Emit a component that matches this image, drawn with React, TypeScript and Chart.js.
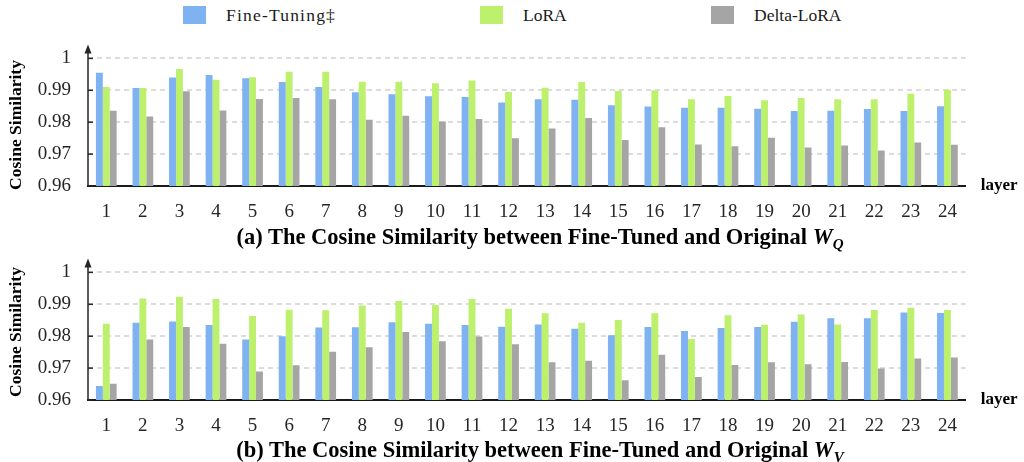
import React, { useEffect, useRef } from "react";
import { Chart, registerables } from "chart.js";

Chart.register(...registerables);

const layers = ["1","2","3","4","5","6","7","8","9","10","11","12","13","14","15","16","17","18","19","20","21","22","23","24"];
const seriesNames = ["Fine-Tuning\u2021", "LoRA", "Delta-LoRA"];
const seriesColors = ["#7FB2F0", "#BDF06D", "#A5A5A5"];
const yTickValues = [0.96, 0.97, 0.98, 0.99, 1];

const wqFineTuning = [0.9955, 0.9907, 0.9940, 0.9948, 0.9938, 0.9926, 0.9910, 0.9894, 0.9888, 0.9881, 0.9879, 0.9862, 0.9872, 0.9870, 0.9853, 0.9849, 0.9845, 0.9845, 0.9842, 0.9835, 0.9836, 0.9841, 0.9835, 0.9850];
const wqLoRA = [0.9910, 0.9907, 0.9967, 0.9933, 0.9941, 0.9958, 0.9958, 0.9927, 0.9927, 0.9922, 0.9931, 0.9895, 0.9908, 0.9926, 0.9898, 0.9900, 0.9872, 0.9882, 0.9869, 0.9876, 0.9872, 0.9872, 0.9889, 0.9902];
const wqDeltaLoRA = [0.9836, 0.9818, 0.9897, 0.9837, 0.9873, 0.9876, 0.9872, 0.9808, 0.9820, 0.9802, 0.9810, 0.9750, 0.9780, 0.9813, 0.9744, 0.9784, 0.9730, 0.9725, 0.9751, 0.9721, 0.9727, 0.9711, 0.9736, 0.9729];

const wvFineTuning = [0.9644, 0.9842, 0.9846, 0.9835, 0.9790, 0.9800, 0.9827, 0.9828, 0.9844, 0.9839, 0.9835, 0.9830, 0.9837, 0.9823, 0.9803, 0.9829, 0.9816, 0.9826, 0.9829, 0.9845, 0.9856, 0.9856, 0.9874, 0.9873];
const wvLoRA = [0.9839, 0.9918, 0.9924, 0.9917, 0.9863, 0.9883, 0.9881, 0.9896, 0.9910, 0.9898, 0.9917, 0.9886, 0.9872, 0.9842, 0.9851, 0.9872, 0.9791, 0.9866, 0.9836, 0.9868, 0.9837, 0.9882, 0.9889, 0.9882];
const wvDeltaLoRA = [0.9651, 0.9790, 0.9829, 0.9776, 0.9689, 0.9709, 0.9751, 0.9765, 0.9813, 0.9784, 0.9799, 0.9775, 0.9718, 0.9723, 0.9662, 0.9742, 0.9672, 0.9710, 0.9718, 0.9712, 0.9719, 0.9699, 0.9730, 0.9733];

const FONT = '"Liberation Serif", "Times New Roman", serif';

const axisPlugin = {
  id: "axisDecor",
  afterDraw(chart: any) {
    const { ctx, chartArea } = chart;
    const yScale = chart.scales.y;
    const left = chartArea.left;
    ctx.save();
    ctx.strokeStyle = "#262626";
    ctx.fillStyle = "#262626";
    ctx.lineWidth = 1.5;
    ctx.beginPath();
    ctx.moveTo(left, chartArea.bottom);
    ctx.lineTo(left, chartArea.top - 6);
    ctx.stroke();
    ctx.beginPath();
    ctx.moveTo(left, chartArea.top - 14);
    ctx.lineTo(left - 3.5, chartArea.top - 5);
    ctx.lineTo(left + 3.5, chartArea.top - 5);
    ctx.closePath();
    ctx.fill();
    yTickValues.forEach((v) => {
      const py = yScale.getPixelForValue(v);
      ctx.beginPath();
      ctx.moveTo(left, py);
      ctx.lineTo(left + 5, py);
      ctx.stroke();
    });
    ctx.font = `bold 17px ${FONT}`;
    ctx.textBaseline = "middle";
    ctx.textAlign = "left";
    ctx.fillStyle = "#000";
    ctx.fillText("layer", chartArea.right + 15, chartArea.bottom);
    ctx.restore();
  },
};

function BarPanel({ ft, lora, delta, top }: { ft: number[]; lora: number[]; delta: number[]; top: number }) {
  const ref = useRef<HTMLCanvasElement>(null);
  useEffect(() => {
    const values = [ft, lora, delta];
    const chart = new Chart(ref.current!, {
      type: "bar",
      data: {
        labels: layers,
        datasets: seriesNames.map((name, i) => ({
          label: name,
          data: values[i],
          backgroundColor: seriesColors[i],
          borderWidth: 0,
          categoryPercentage: 0.566,
          barPercentage: 1,
        })),
      },
      options: {
        animation: false,
        responsive: false,
        maintainAspectRatio: false,
        devicePixelRatio: 1,
        layout: { padding: { top: 20, right: 58.3, left: 0, bottom: 0 } },
        plugins: { legend: { display: false }, tooltip: { enabled: false }, title: { display: false } },
        scales: {
          x: {
            grid: { display: false },
            border: { color: "#1a1a1a", width: 2 },
            ticks: { font: { family: FONT, size: 19 }, color: "#262626", padding: 7, maxRotation: 0, autoSkip: false },
            afterFit: (s: any) => { s.height = 44; },
          },
          y: {
            min: 0.96,
            max: 1,
            afterBuildTicks: (s: any) => { s.ticks = yTickValues.map((v) => ({ value: v })); },
            ticks: {
              font: { family: FONT, size: 19 },
              color: "#262626",
              padding: 17,
              callback: (v: any) => String(Math.round(Number(v) * 100) / 100),
            },
            grid: { color: "#dcdcdc", lineWidth: 2, drawTicks: false },
            border: { display: false, dash: [5, 4] },
            afterFit: (s: any) => { s.width = 88; },
          },
        },
      } as any,
      plugins: [axisPlugin],
    });
    return () => chart.destroy();
  }, []);
  return (
    <canvas
      ref={ref}
      width={1024}
      height={200}
      style={{ position: "absolute", left: 0, top, width: 1024, height: 200 }}
    />
  );
}

function PanelTitle({ letter, sub, top }: { letter: string; sub: string; top: number }) {
  return (
    <div
      style={{
        position: "absolute",
        left: 540,
        top,
        transform: "translateX(-50%)",
        whiteSpace: "nowrap",
        fontFamily: FONT,
        fontWeight: "bold",
        fontSize: 22.5,
        lineHeight: "24px",
        color: "#000",
      }}
    >
      ({letter}) The Cosine Similarity between Fine-Tuned and Original{" "}
      <i>W</i>
      <sub style={{ fontSize: 15, fontStyle: "italic", verticalAlign: "-5px", lineHeight: "0" }}>{sub}</sub>
    </div>
  );
}

function YTitle({ cy }: { cy: number }) {
  return (
    <div
      style={{
        position: "absolute",
        left: 15,
        top: cy,
        transform: "translate(-50%, -50%) rotate(-90deg)",
        whiteSpace: "nowrap",
        fontFamily: FONT,
        fontWeight: "bold",
        fontSize: 17.5,
        lineHeight: "20px",
        color: "#000",
      }}
    >
      Cosine Similarity
    </div>
  );
}

function Legend() {
  const boxX = [183, 480, 711];
  return (
    <>
      {seriesNames.map((name, i) => (
        <React.Fragment key={name}>
          <div style={{ position: "absolute", left: boxX[i], top: 6, width: 23, height: 18, background: seriesColors[i] }} />
          <div
            style={{
              position: "absolute",
              left: boxX[i] + 43,
              top: 4,
              fontFamily: FONT,
              fontSize: 17.5,
              lineHeight: "22px",
              letterSpacing: i === 0 ? "1.2px" : "0px",
              color: "#1a1a1a",
              whiteSpace: "nowrap",
            }}
          >
            {name}
          </div>
        </React.Fragment>
      ))}
    </>
  );
}

export default function App() {
  return (
    <div
      style={{
        position: "absolute",
        left: 0,
        top: 0,
        width: 1024,
        height: 462,
        background: "#fff",
        overflow: "hidden",
      }}
    >
      <Legend />
      <BarPanel ft={wqFineTuning} lora={wqLoRA} delta={wqDeltaLoRA} top={30} />
      <BarPanel ft={wvFineTuning} lora={wvLoRA} delta={wvDeltaLoRA} top={244} />
      <YTitle cy={125} />
      <YTitle cy={332} />
      <PanelTitle letter="a" sub="Q" top={225} />
      <PanelTitle letter="b" sub="V" top={438} />
    </div>
  );
}
